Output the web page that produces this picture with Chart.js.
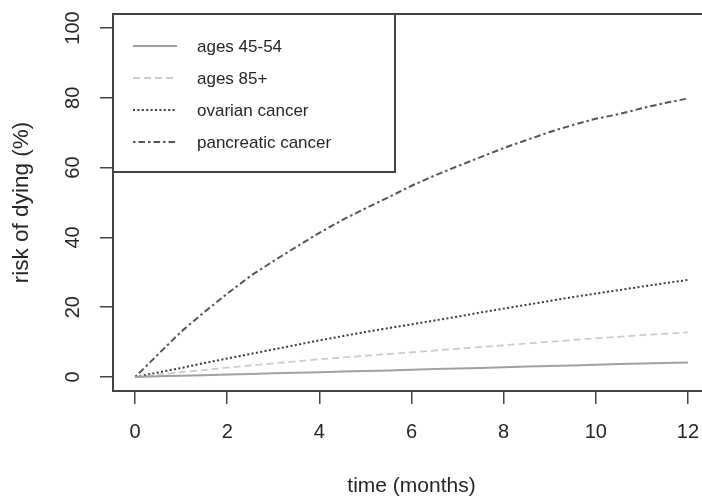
<!DOCTYPE html>
<html>
<head>
<meta charset="utf-8">
<script src="https://cdn.jsdelivr.net/npm/chart.js@4"></script>
<style>
  html, body { margin: 0; padding: 0; background: #fff; overflow: hidden; }
  #wrap { width: 720px; height: 500px; }
</style>
</head>
<body>
<div id="wrap"><canvas id="chart" width="720" height="500"></canvas></div>
<script>
const months = [0, 0.5, 1, 1.5, 2, 2.5, 3, 3.5, 4, 4.5, 5, 5.5, 6, 6.5, 7, 7.5, 8, 8.5, 9, 9.5, 10, 10.5, 11, 11.5, 12];

const ages4554 = [0, 0.2, 0.35, 0.5, 0.7, 0.9, 1.05, 1.2, 1.4, 1.6, 1.75, 1.9, 2.1, 2.3, 2.45, 2.6, 2.8, 3.0, 3.15, 3.3, 3.5, 3.7, 3.85, 4.0, 4.2];
const ages85 = [0, 0.7, 1.4, 2.0, 2.7, 3.3, 3.9, 4.5, 5.1, 5.6, 6.1, 6.6, 7.1, 7.6, 8.1, 8.6, 9.1, 9.6, 10.1, 10.6, 11.1, 11.5, 12.0, 12.4, 12.8];
const ovarian = [0, 1.3, 2.6, 4.0, 5.3, 6.6, 7.9, 9.2, 10.5, 11.7, 12.9, 14.0, 15.1, 16.2, 17.3, 18.5, 19.6, 20.7, 21.8, 22.9, 23.9, 24.9, 25.9, 26.9, 27.8];
const pancreatic = [0, 6.5, 13.0, 18.6, 23.9, 28.9, 33.2, 37.3, 41.3, 45.0, 48.3, 51.5, 54.8, 57.7, 60.4, 63.0, 65.6, 67.9, 70.2, 72.2, 74.0, 75.3, 77.0, 78.5, 79.8];

const seriesNames = ['ages 45-54', 'ages 85+', 'ovarian cancer', 'pancreatic cancer'];
const xTicks = [0, 2, 4, 6, 8, 10, 12];
const yTicks = [0, 20, 40, 60, 80, 100];

const FONT = '"Liberation Sans", Arial, sans-serif';
const TEXT = '#262626';

function toPoints(values) {
    return months.map((m, i) => ({ x: m, y: values[i] }));
}

const datasets = [
    { label: seriesNames[0], data: toPoints(ages4554), borderColor: '#a0a0a0', borderWidth: 2, borderDash: [] },
    { label: seriesNames[1], data: toPoints(ages85), borderColor: '#cccccc', borderWidth: 1.8, borderDash: [7, 4] },
    { label: seriesNames[2], data: toPoints(ovarian), borderColor: '#3a3a3a', borderWidth: 2, borderDash: [2, 2.4] },
    { label: seriesNames[3], data: toPoints(pancreatic), borderColor: '#555555', borderWidth: 2, borderDash: [2.5, 3, 6.5, 3] }
].map(d => ({ ...d, pointRadius: 0, tension: 0, fill: false }));

// legend box in the top-left corner, like R's legend("topleft")
const boxLegend = {
    id: 'boxLegend',
    afterDatasetsDraw(chart) {
        const { ctx, chartArea: a } = chart;
        const left = a.left, top = a.top, w = 282, h = 158;
        ctx.save();
        ctx.fillStyle = '#fff';
        ctx.fillRect(left, top, w, h);
        ctx.strokeStyle = '#444';
        ctx.lineWidth = 2;
        ctx.strokeRect(left, top, w, h);
        chart.data.datasets.forEach((ds, i) => {
            const y = top + 32 + i * 32;
            ctx.strokeStyle = ds.borderColor;
            ctx.lineWidth = ds.borderWidth;
            ctx.setLineDash(ds.borderDash);
            ctx.beginPath();
            ctx.moveTo(left + 20, y);
            ctx.lineTo(left + 64, y);
            ctx.stroke();
            ctx.setLineDash([]);
            ctx.fillStyle = TEXT;
            ctx.font = '17px ' + FONT;
            ctx.textBaseline = 'middle';
            ctx.fillText(ds.label, left + 84, y + 1.5);
        });
        ctx.restore();
    }
};

const frame = {
    id: 'frame',
    afterDraw(chart) {
        const { ctx, chartArea: a } = chart;
        ctx.save();
        ctx.strokeStyle = '#444';
        ctx.lineWidth = 2;
        ctx.strokeRect(a.left, a.top, a.right - a.left, a.bottom - a.top);
        ctx.restore();
    }
};

new Chart(document.getElementById('chart'), {
    type: 'line',
    data: { datasets },
    plugins: [boxLegend, frame],
    options: {
        responsive: false,
        animation: false,
        layout: { padding: { top: 14, right: 10, left: 0, bottom: 0 } },
        plugins: { legend: { display: false }, tooltip: { enabled: false } },
        scales: {
            x: {
                type: 'linear',
                min: -0.48,
                max: 12.48,
                afterBuildTicks: s => { s.ticks = xTicks.map(v => ({ value: v })); },
                afterFit: s => { s.height = 109; s.paddingLeft = 0; s.paddingRight = 0; },
                grid: { drawOnChartArea: false, drawTicks: true, tickLength: 13, color: '#444', lineWidth: 1.5 },
                border: { display: false },
                ticks: { font: { family: FONT, size: 20 }, color: TEXT, padding: 16, maxRotation: 0 },
                title: { display: true, text: 'time (months)', font: { family: FONT, size: 21 }, color: TEXT, padding: { top: 0, bottom: 1 } }
            },
            y: {
                min: -4,
                max: 104,
                afterBuildTicks: s => { s.ticks = yTicks.map(v => ({ value: v })); },
                afterFit: s => { s.width = 113; s.paddingTop = 0; s.paddingBottom = 0; },
                grid: { drawOnChartArea: false, drawTicks: true, tickLength: 13, color: '#444', lineWidth: 1.5 },
                border: { display: false },
                ticks: { font: { family: FONT, size: 20 }, color: TEXT, padding: 10, minRotation: 90, maxRotation: 90, crossAlign: 'center' },
                title: { display: true, text: 'risk of dying (%)', font: { family: FONT, size: 22.5 }, color: TEXT, padding: { top: 8, bottom: 0 } }
            }
        }
    }
});
</script>
</body>
</html>
